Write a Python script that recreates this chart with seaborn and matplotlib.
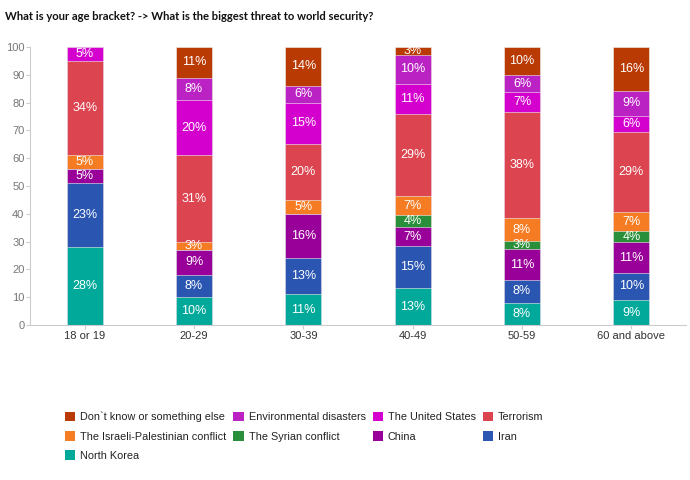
import numpy as np
import pandas as pd
import matplotlib
matplotlib.use("Agg")
import matplotlib.pyplot as plt
import seaborn as sns
from matplotlib.patches import Patch

ages = ["18 or 19", "20-29", "30-39", "40-49", "50-59", "60 and above"]
# series, bottom to top
north_korea = [28, 10, 11, 13, 8, 9]
iran = [23, 8, 13, 15, 8, 10]
china = [5, 9, 16, 7, 11, 11]
syrian = [0, 0, 0, 4, 3, 4]
israeli_pal = [5, 3, 5, 7, 8, 7]
terrorism = [34, 31, 20, 29, 38, 29]
united_states = [5, 20, 15, 11, 7, 6]
environmental = [0, 8, 6, 10, 6, 9]
dont_know = [0, 11, 14, 3, 10, 16]

series_names = ["North Korea", "Iran", "China", "The Syrian conflict",
                "The Israeli-Palestinian conflict", "Terrorism",
                "The United States", "Environmental disasters",
                "Don`t know or something else"]
series_vals = [north_korea, iran, china, syrian, israeli_pal, terrorism,
               united_states, environmental, dont_know]
colors = ["#00A99A", "#2A55B0", "#990099", "#2A8F3A", "#F57C22",
          "#DC4450", "#D400CE", "#BA22C3", "#BA3A03"]

sns.set_theme(style="white")
plt.rcParams["font.family"] = ["Liberation Sans", "DejaVu Sans"]

fig = plt.figure(figsize=(6.9, 4.8), dpi=100)
ax = fig.add_axes([30/690, 1-325/480, 656/690, 278/480])

vals = np.array(series_vals, dtype=float)
totals = vals.sum(axis=0)
vals = vals / totals * 100.0
cum = np.cumsum(vals, axis=0)

df = pd.DataFrame({"age": ages})
for i in range(len(series_names) - 1, -1, -1):
    df["cum"] = cum[i]
    sns.barplot(data=df, x="age", y="cum", order=ages, color=colors[i],
                width=0.33, saturation=1, ax=ax, edgecolor="#f2f2f2",
                linewidth=0.4)

for i, name in enumerate(series_names):
    raw = series_vals[i]
    for j in range(len(ages)):
        if raw[j] <= 0:
            continue
        mid = cum[i][j] - vals[i][j] / 2
        ax.text(j, mid, f"{raw[j]}%", ha="center", va="center",
                color="white", fontsize=9)

ax.set_ylim(0, 100)
ax.set_xlim(-0.5, 5.5)
ax.set_yticks(range(0, 101, 10))
ax.set_xlabel("")
ax.set_ylabel("")
for s in ["top", "right"]:
    ax.spines[s].set_visible(False)
ax.spines["left"].set_color("#cccccc")
ax.spines["bottom"].set_color("#cccccc")
ax.spines["left"].set_linewidth(0.8)
ax.spines["bottom"].set_linewidth(0.8)
ax.tick_params(axis="y", colors="#cccccc", labelcolor="#777777",
               labelsize=8, length=3, width=0.8, direction="out", left=True, pad=1)
ax.tick_params(axis="x", colors="#cccccc", labelcolor="#333333",
               labelsize=8, length=3, width=0.8, direction="out", bottom=True, pad=1)

fig.text(5/690, 1-17/480, "What is your age bracket? -> What is the biggest threat to world security?",
         fontsize=8.1, fontweight="bold", color="#111111", ha="left", va="center",
         family=["Lato", "DejaVu Sans"])

legend_order = [8, 4, 0, 7, 3, 6, 2, 5, 1]
handles = [Patch(facecolor=colors[k], edgecolor="none") for k in legend_order]
labels = [series_names[k] for k in legend_order]
leg = fig.legend(handles, labels, loc="upper left", bbox_to_anchor=(65/690, 1-412/480),
                 ncol=4, frameon=False, fontsize=7.8, handlelength=0.95,
                 handleheight=0.95, handletextpad=0.45, columnspacing=0.65,
                 labelspacing=0.8, borderaxespad=0, borderpad=0)
for t in leg.get_texts():
    t.set_color("#222222")

fig.savefig("out.png", dpi=100)
